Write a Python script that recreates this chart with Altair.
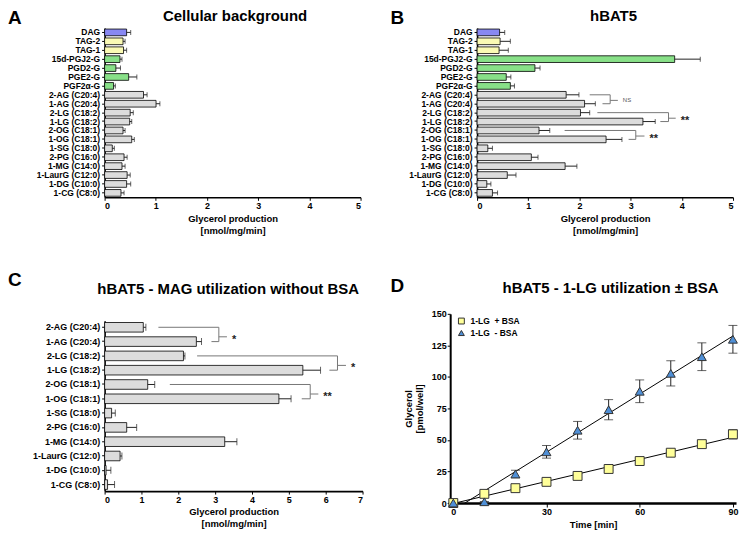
import altair as alt
import pandas as pd

FONT = "Liberation Sans"

# ---------------- data ----------------
cats_ab = ["DAG", "TAG-2", "TAG-1", "15d-PGJ2-G", "PGD2-G", "PGE2-G", "PGF2α-G",
           "2-AG (C20:4)", "1-AG (C20:4)", "2-LG (C18:2)", "1-LG (C18:2)",
           "2-OG (C18:1)", "1-OG (C18:1)", "1-SG (C18:0)", "2-PG (C16:0)",
           "1-MG (C14:0)", "1-LaurG (C12:0)", "1-DG (C10:0)", "1-CG (C8:0)"]
class_ab = ["DAG", "TAG", "TAG", "PG", "PG", "PG", "PG"] + ["MAG"] * 12

a_val = [0.43, 0.36, 0.37, 0.30, 0.22, 0.47, 0.175, 0.76, 1.005, 0.50, 0.49,
         0.36, 0.53, 0.15, 0.38, 0.34, 0.44, 0.43, 0.32]
a_err = [0.08, 0.04, 0.06, 0.04, 0.09, 0.16, 0.035, 0.07, 0.075, 0.06, 0.04,
         0.04, 0.05, 0.04, 0.06, 0.06, 0.06, 0.08, 0.06]

b_val = [0.44, 0.45, 0.43, 3.86, 1.13, 0.57, 0.65, 1.74, 2.10, 2.02, 3.24,
         1.21, 2.52, 0.21, 1.06, 1.72, 0.59, 0.19, 0.30]
b_err = [0.10, 0.20, 0.18, 0.50, 0.10, 0.09, 0.08, 0.25, 0.21, 0.18, 0.24,
         0.21, 0.31, 0.09, 0.13, 0.23, 0.17, 0.08, 0.10]

cats_c = ["2-AG (C20:4)", "1-AG (C20:4)", "2-LG (C18:2)", "1-LG (C18:2)",
          "2-OG (C18:1)", "1-OG (C18:1)", "1-SG (C18:0)", "2-PG (C16:0)",
          "1-MG (C14:0)", "1-LaurG (C12:0)", "1-DG (C10:0)", "1-CG (C8:0)"]
class_c = ["MAG"] * 12
c_val = [1.05, 2.49, 2.14, 5.38, 1.17, 4.73, 0.19, 0.60, 3.26, 0.42, 0.04, 0.08]
c_err = [0.07, 0.14, 0.04, 0.48, 0.19, 0.33, 0.10, 0.27, 0.33, 0.05, 0.13, 0.19]

# significance brackets: upper row, lower row, start x upper, start x lower, vertical x, tip x, label
b_brackets = [
    ("2-AG (C20:4)", "1-AG (C20:4)", 2.20, 2.45, 2.60, 2.75, "NS"),
    ("2-LG (C18:2)", "1-LG (C18:2)", 2.35, 3.58, 3.74, 3.88, "**"),
    ("2-OG (C18:1)", "1-OG (C18:1)", 1.71, 2.96, 3.10, 3.27, "**"),
]
c_brackets = [
    ("2-AG (C20:4)", "1-AG (C20:4)", 1.46, 2.90, 3.10, 3.32, "*"),
    ("2-LG (C18:2)", "1-LG (C18:2)", 2.51, 6.10, 6.32, 6.55, "*"),
    ("2-OG (C18:1)", "1-OG (C18:1)", 1.77, 5.35, 5.58, 5.80, "**"),
]

time_min = [0, 10, 20, 30, 40, 50, 60, 70, 80, 90]
plus_bsa = [0, 7.3, 11.8, 16.8, 21.5, 27.0, 33.3, 39.9, 46.7, 54.5]
plus_err = [0, 1.0, 1.0, 1.0, 1.0, 1.2, 1.5, 2.0, 2.5, 3.7]
minus_bsa = [0, 1.0, 23.0, 40.6, 57.7, 74.0, 88.6, 102.8, 116.0, 129.8]
minus_err = [0, 0, 3.0, 5.0, 7.0, 8.0, 9.0, 10.0, 11.0, 11.0]
series_names = ["1-LG\u00a0 + BSA", "1-LG\u00a0 - BSA"]

class_colors = {"DAG": "#8888f2", "TAG": "#fafab4", "PG": "#88e088", "MAG": "#dcdcdc"}


def text_layer(txt, x, y, size, align, opacity=1):
    return alt.Chart(pd.DataFrame({"t": [txt]})).mark_text(
        align=align, baseline="alphabetic", font=FONT, fontSize=size,
        fontWeight="bold", color="black", opacity=opacity
    ).encode(x=alt.value(x), y=alt.value(y), text="t:N")


def headers(letter, lx, ly, title, tx, ty):
    return [text_layer(letter, lx, ly, 19, "left"), text_layer(title, tx, ty, 15, "center")]


def bar_panel(cats, classes, vals, errs, xmax, brackets, hdr,
              width, height, label_size, pad_inner, cap_size):
    df = pd.DataFrame({"cat": cats, "cls": classes, "val": vals, "err": errs})
    df["hi"] = df["val"] + df["err"]
    yscale = alt.Scale(domain=cats, paddingInner=pad_inner, paddingOuter=0.12)
    yaxis = alt.Axis(title=None, labelFontSize=label_size, labelPadding=2,
                     tickSize=3, domainWidth=1.6, labelFontWeight="bold")
    xscale = alt.Scale(domain=[0, xmax], nice=False)
    xaxis = alt.Axis(values=list(range(xmax + 1)), format="d",
                     title=["Glycerol production", "[nmol/mg/min]"],
                     labelFontSize=9, titleFontSize=9.5, titlePadding=3,
                     titleLineHeight=12, tickSize=3, domainWidth=1.6,
                     labelPadding=1, labelFontWeight="bold", titleFontWeight="bold")

    def Y(field="cat", **kw):
        return alt.Y(f"{field}:N", scale=yscale, axis=yaxis, **kw)

    def X(field):
        return alt.X(f"{field}:Q", scale=xscale, axis=xaxis)

    base = alt.Chart(df)
    bars = base.mark_bar(stroke="black", strokeWidth=0.8).encode(
        y=Y(), x=X("val"),
        color=alt.Color("cls:N", scale=alt.Scale(domain=list(class_colors),
                                                 range=list(class_colors.values())),
                        legend=None))
    err = base.mark_rule(color="#222222", strokeWidth=1).encode(y=Y(), x=X("val"), x2="hi")
    cap = base.mark_tick(color="#222222", thickness=1, size=cap_size).encode(y=Y(), x=X("hi"))
    layers = [bars, err, cap]

    if brackets:
        bdf = pd.DataFrame(brackets, columns=["top", "bottom", "x_top", "x_bottom",
                                              "x_v", "x_tip", "label"])
        bb = alt.Chart(bdf)
        lc = "#777777"
        layers += [
            bb.mark_rule(color=lc, strokeWidth=1).encode(y=Y("top"), x=X("x_top"), x2="x_v"),
            bb.mark_rule(color=lc, strokeWidth=1).encode(y=Y("bottom"), x=X("x_bottom"), x2="x_v"),
            bb.mark_rule(color=lc, strokeWidth=1).encode(y=Y("top"), y2="bottom", x=X("x_v")),
            bb.mark_rule(color=lc, strokeWidth=1).encode(y=Y("bottom", bandPosition=0),
                                                         x=X("x_v"), x2="x_tip"),
            bb.transform_filter(alt.datum.label != "NS").mark_text(
                align="left", baseline="middle", dx=5, dy=3, font=FONT,
                fontWeight="bold", fontSize=11, color="#222222"
            ).encode(y=Y("bottom", bandPosition=0), x=X("x_tip"), text="label:N"),
            bb.transform_filter(alt.datum.label == "NS").mark_text(
                align="left", baseline="middle", dx=5, font=FONT,
                fontSize=6, color="#555555"
            ).encode(y=Y("bottom", bandPosition=0), x=X("x_tip"), text="label:N"),
        ]
    layers += hdr
    return alt.layer(*layers).properties(width=width, height=height)


panel_a = bar_panel(cats_ab, class_ab, a_val, a_err, 5, None,
                    headers("A", -97, -4, "Cellular background", 131, -7),
                    257, 170, 8.5, 0.25, 5)
panel_b = bar_panel(cats_ab, class_ab, b_val, b_err, 5, b_brackets,
                    headers("B", -87, -4, "hBAT5", 137, -7),
                    257, 170, 8.5, 0.25, 5)
panel_c = bar_panel(cats_c, class_c, c_val, c_err, 7, c_brackets,
                    headers("C", -97, -35, "hBAT5 - MAG utilization without BSA", 124, -27),
                    259, 171, 9, 0.33, 7)

# ---------------- panel D ----------------
ddf = pd.DataFrame({
    "time": time_min + time_min,
    "val": plus_bsa + minus_bsa,
    "err": plus_err + minus_err,
    "series": [series_names[0]] * len(time_min) + [series_names[1]] * len(time_min),
})
ddf["lo"] = ddf["val"] - ddf["err"]
ddf["hi"] = ddf["val"] + ddf["err"]

dxs = alt.Scale(domain=[-1, 91], nice=False)
dys = alt.Scale(domain=[0, 150], nice=False)
dxaxis = alt.Axis(values=[0, 30, 60, 90], title="Time [min]", labelFontSize=9,
                  titleFontSize=9.5, tickSize=4, domainWidth=2.5, titlePadding=3,
                  labelPadding=1, labelFontWeight="bold", titleFontWeight="bold")
dyaxis = alt.Axis(values=[0, 25, 50, 75, 100, 125, 150],
                  title=["Glycerol", "[pmol/well]"], labelFontSize=9,
                  titleFontSize=9.5, tickSize=3, domainWidth=2, titlePadding=7,
                  titleLineHeight=11, labelPadding=1, labelFontWeight="bold",
                  titleFontWeight="bold")
shared_legend = alt.Legend(title=None, orient="none", legendX=7, legendY=3,
                           labelFont=FONT, labelFontWeight="bold", labelFontSize=8.5,
                           labelColor="black", symbolSize=35, symbolStrokeColor="#333333",
                           symbolStrokeWidth=1, rowPadding=1, padding=0, labelOffset=5)
dcolor = alt.Color("series:N", scale=alt.Scale(domain=series_names,
                                               range=["#ffff99", "#4f8fd6"]),
                   legend=shared_legend)
dshape = alt.Shape("series:N", scale=alt.Scale(domain=series_names,
                                               range=["square", "triangle-up"]),
                   legend=shared_legend)

dbase = alt.Chart(ddf)
fit = dbase.transform_regression("time", "val", groupby=["series"], extent=[0, 90]).mark_line(
    color="black", strokeWidth=1, clip=True
).encode(x=alt.X("time:Q", scale=dxs, axis=dxaxis),
         y=alt.Y("val:Q", scale=dys, axis=dyaxis), detail="series:N")
derr = dbase.mark_errorbar(ticks={"size": 9, "color": "#222222"},
                           rule={"color": "#222222", "strokeWidth": 1}).encode(
    x=alt.X("time:Q", scale=dxs, axis=dxaxis),
    y=alt.Y("lo:Q", scale=dys, axis=dyaxis), y2="hi")
dpts = dbase.mark_point(filled=True, size=80, stroke="#333333", strokeWidth=1,
                        opacity=1).encode(
    x=alt.X("time:Q", scale=dxs, axis=dxaxis),
    y=alt.Y("val:Q", scale=dys, axis=dyaxis),
    color=dcolor, shape=dshape)

# transparent spacer keeps the panel's top edge where the reference has it
spacer_d = text_layer("D", -60, -28, 19, "left", opacity=0)

panel_d = alt.layer(fit, derr, dpts, spacer_d,
                    *headers("D", -60, -22, "hBAT5 - 1-LG utilization ± BSA", 161, -21)
                    ).properties(width=287, height=190)

chart = alt.ConcatChart(
    concat=[panel_a, panel_b, panel_c, panel_d], columns=2, align="none",
    spacing={"row": 36, "column": 27}
).resolve_scale(
    color="independent", shape="independent"
).resolve_legend(
    color="independent", shape="independent"
).properties(
    padding=0, background="white"
).configure_view(strokeWidth=0).configure_axis(
    grid=False, domainColor="black", tickColor="black", labelColor="black",
    titleColor="black", labelFont=FONT, titleFont=FONT, labelFontWeight="bold",
    titleFontWeight="bold", tickWidth=1
)

chart.save("out.html", embed_options={"renderer": "svg", "actions": False})
